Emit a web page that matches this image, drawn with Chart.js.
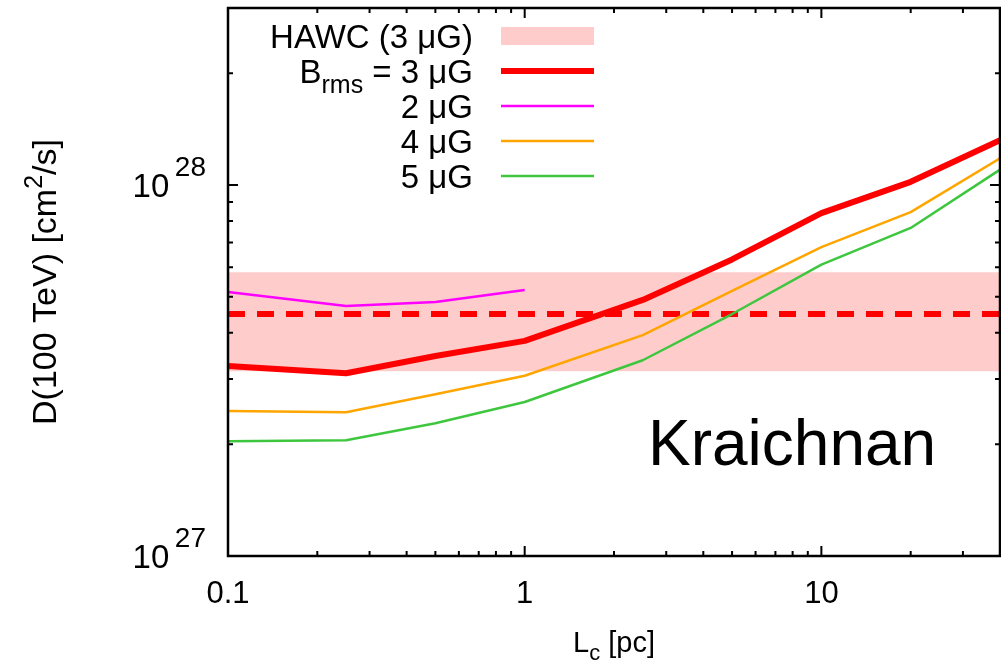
<!DOCTYPE html>
<html>
<head>
<meta charset="utf-8">
<script src="https://cdn.jsdelivr.net/npm/chart.js@4.4.1/dist/chart.umd.min.js"></script>
<style>
  body { margin: 0; background: #fff; }
  canvas { display: block; }
</style>
</head>
<body>
<canvas id="chart" width="1001" height="666"></canvas>
<script>
// coherence length L_c [pc]
const lcValues = [0.1, 0.25, 0.5, 1, 2.5, 5, 10, 20, 40];
const lcShort = [0.1, 0.25, 0.5, 1];

// D(100 TeV) [cm^2/s] for each B_rms
const d3uG = [3.25e27, 3.11e27, 3.46e27, 3.8e27, 4.9e27, 6.3e27, 8.4e27, 1.02e28, 1.32e28];
const d2uG = [5.15e27, 4.72e27, 4.84e27, 5.21e27];
const d4uG = [2.46e27, 2.44e27, 2.73e27, 3.06e27, 3.94e27, 5.18e27, 6.8e27, 8.45e27, 1.18e28];
const d5uG = [2.04e27, 2.05e27, 2.28e27, 2.6e27, 3.37e27, 4.49e27, 6.1e27, 7.66e27, 1.10e28];

// HAWC band (3 uG)
const hawcRange = [0.1, 40];
const hawcHigh = 5.82e27;
const hawcLow = 3.15e27;
const hawcCentral = 4.49e27;

// axes
const xMajorTicks = [0.1, 1, 10];
const xTickLabels = ['0.1', '1', '10'];
const yMajorTicks = [1e27, 1e28];
const yTickExponents = ['27', '28'];

const legendLabels = ['HAWC (3 μG)', 'B|rms| = 3 μG', '2 μG', '4 μG', '5 μG'];

const FONT = '"Liberation Sans", Arial, sans-serif';
const RED = '#ff0000';
const MAGENTA = '#ff00ff';
const ORANGE = '#ffa500';
const GREEN = '#3ec73e';
const BAND = 'rgb(255, 204, 204)';

const toPts = (xs, ys) => xs.map((x, i) => ({ x, y: ys[i] }));

// minor tick values for a log axis between min and max
function minorTicks(min, max) {
  const out = [];
  for (let e = Math.floor(Math.log10(min)); e <= Math.ceil(Math.log10(max)); e++) {
    for (let m = 2; m <= 9; m++) {
      const v = m * Math.pow(10, e);
      if (v > min * 1.0001 && v < max * 0.9999) out.push(v);
    }
  }
  return out;
}

// draws a run of text pieces (for sub/superscripts)
function drawRich(ctx, parts, x, y, align) {
  const widths = parts.map(p => { ctx.font = p.font; return ctx.measureText(p.text).width; });
  const total = widths.reduce((a, b) => a + b, 0);
  let cx = align === 'right' ? x - total : (align === 'center' ? x - total / 2 : x);
  parts.forEach((p, i) => {
    ctx.font = p.font;
    ctx.textAlign = 'left';
    ctx.fillText(p.text, cx, y + (p.dy || 0));
    cx += widths[i];
  });
}

const framePlugin = {
  id: 'frame',
  afterDraw(chart) {
    const { ctx, chartArea: a, scales } = chart;
    const xs = scales.x, ys = scales.y;
    ctx.save();
    ctx.strokeStyle = '#000';
    ctx.fillStyle = '#000';
    ctx.lineWidth = 2;

    // ticks, inward on all four sides
    const majLen = 10, minLen = 5;
    const xTick = (v, len) => {
      const px = xs.getPixelForValue(v);
      ctx.beginPath();
      ctx.moveTo(px, a.bottom); ctx.lineTo(px, a.bottom - len);
      ctx.moveTo(px, a.top); ctx.lineTo(px, a.top + len);
      ctx.stroke();
    };
    const yTick = (v, len) => {
      const py = ys.getPixelForValue(v);
      ctx.beginPath();
      ctx.moveTo(a.left, py); ctx.lineTo(a.left + len, py);
      ctx.moveTo(a.right, py); ctx.lineTo(a.right - len, py);
      ctx.stroke();
    };
    xMajorTicks.forEach(v => xTick(v, majLen));
    minorTicks(xs.min, xs.max).forEach(v => xTick(v, minLen));
    yMajorTicks.forEach(v => yTick(v, majLen));
    minorTicks(ys.min, ys.max).forEach(v => yTick(v, minLen));

    // frame
    ctx.lineWidth = 2.5;
    ctx.strokeRect(a.left, a.top, a.right - a.left, a.bottom - a.top);

    // x tick labels
    ctx.textBaseline = 'alphabetic';
    ctx.textAlign = 'center';
    ctx.font = `31px ${FONT}`;
    xMajorTicks.forEach((v, i) => {
      ctx.fillText(xTickLabels[i], xs.getPixelForValue(v), 603);
    });

    // y tick labels 10^N
    yMajorTicks.forEach((v, i) => {
      const py = ys.getPixelForValue(v);
      drawRich(ctx, [
        { text: '10', font: `33px ${FONT}` },
        { text: '  ', font: `10px ${FONT}` },
        { text: yTickExponents[i], font: `28px ${FONT}`, dy: -21 }
      ], 206, py + 12, 'right');
    });

    // x title
    drawRich(ctx, [
      { text: 'L', font: `29px ${FONT}` },
      { text: 'c', font: `22px ${FONT}`, dy: 8 },
      { text: ' [pc]', font: `29px ${FONT}` }
    ], (a.left + a.right) / 2, 652, 'center');

    // y title
    ctx.save();
    ctx.translate(56, (a.top + a.bottom) / 2);
    ctx.rotate(-Math.PI / 2);
    drawRich(ctx, [
      { text: 'D(100 TeV) [cm', font: `34px ${FONT}` },
      { text: '2', font: `25px ${FONT}`, dy: -14 },
      { text: '/s]', font: `34px ${FONT}` }
    ], 0, 0, 'center');
    ctx.restore();

    // legend
    const lx0 = 501, lx1 = 594, tx = 473;
    const rowY = [36, 71, 106, 141, 176];
    const styles = [
      { band: true },
      { color: RED, width: 6 },
      { color: MAGENTA, width: 2.5 },
      { color: ORANGE, width: 2.5 },
      { color: GREEN, width: 2.5 }
    ];
    legendLabels.forEach((label, i) => {
      const y = rowY[i];
      ctx.fillStyle = '#000';
      const m = label.match(/^(.*)\|(.*)\|(.*)$/);
      if (m) {
        drawRich(ctx, [
          { text: m[1], font: `33px ${FONT}` },
          { text: m[2], font: `25px ${FONT}`, dy: 10 },
          { text: m[3], font: `33px ${FONT}` }
        ], tx, y + 12, 'right');
      } else {
        drawRich(ctx, [{ text: label, font: `33px ${FONT}` }], tx, y + 12, 'right');
      }
      const s = styles[i];
      if (s.band) {
        ctx.fillStyle = BAND;
        ctx.fillRect(lx0, y - 9, lx1 - lx0, 18);
      } else {
        ctx.strokeStyle = s.color;
        ctx.lineWidth = s.width;
        ctx.beginPath();
        ctx.moveTo(lx0, y); ctx.lineTo(lx1, y);
        ctx.stroke();
      }
    });

    // model label
    ctx.fillStyle = '#000';
    ctx.font = `64px ${FONT}`;
    ctx.textAlign = 'left';
    ctx.fillText('Kraichnan', 648, 465);

    ctx.restore();
  }
};

new Chart(document.getElementById('chart'), {
  type: 'line',
  data: {
    datasets: [
      {
        label: 'HAWC high',
        data: toPts(hawcRange, [hawcHigh, hawcHigh]),
        borderWidth: 0,
        pointRadius: 0,
        backgroundColor: BAND,
        fill: '+1',
        order: 10
      },
      {
        label: 'HAWC low',
        data: toPts(hawcRange, [hawcLow, hawcLow]),
        borderWidth: 0,
        pointRadius: 0,
        fill: false,
        order: 10
      },
      {
        label: 'HAWC central',
        data: toPts(hawcRange, [hawcCentral, hawcCentral]),
        borderColor: RED,
        borderWidth: 6,
        borderDash: [17, 12],
        pointRadius: 0,
        fill: false,
        order: 6
      },
      {
        label: '3 uG',
        data: toPts(lcValues, d3uG),
        borderColor: RED,
        borderWidth: 6,
        pointRadius: 0,
        fill: false,
        order: 1
      },
      {
        label: '2 uG',
        data: toPts(lcShort, d2uG),
        borderColor: MAGENTA,
        borderWidth: 2.5,
        pointRadius: 0,
        fill: false,
        order: 2
      },
      {
        label: '4 uG',
        data: toPts(lcValues, d4uG),
        borderColor: ORANGE,
        borderWidth: 2.5,
        pointRadius: 0,
        fill: false,
        order: 3
      },
      {
        label: '5 uG',
        data: toPts(lcValues, d5uG),
        borderColor: GREEN,
        borderWidth: 2.5,
        pointRadius: 0,
        fill: false,
        order: 4
      }
    ]
  },
  options: {
    responsive: false,
    animation: false,
    devicePixelRatio: 1,
    layout: { padding: { top: 8, right: 1, left: 0, bottom: 0 } },
    plugins: {
      legend: { display: false },
      tooltip: { enabled: false },
      filler: { propagate: false }
    },
    elements: { line: { tension: 0, borderJoinStyle: 'round', borderCapStyle: 'butt' } },
    scales: {
      x: {
        type: 'logarithmic',
        min: 0.1,
        max: 40,
        grid: { display: false },
        border: { display: false },
        ticks: { display: false },
        afterFit: s => { s.height = 110; }
      },
      y: {
        type: 'logarithmic',
        min: 1e27,
        max: 3.0e28,
        grid: { display: false },
        border: { display: false },
        ticks: { display: false },
        afterFit: s => { s.width = 228; }
      }
    }
  },
  plugins: [framePlugin]
});
</script>
</body>
</html>
